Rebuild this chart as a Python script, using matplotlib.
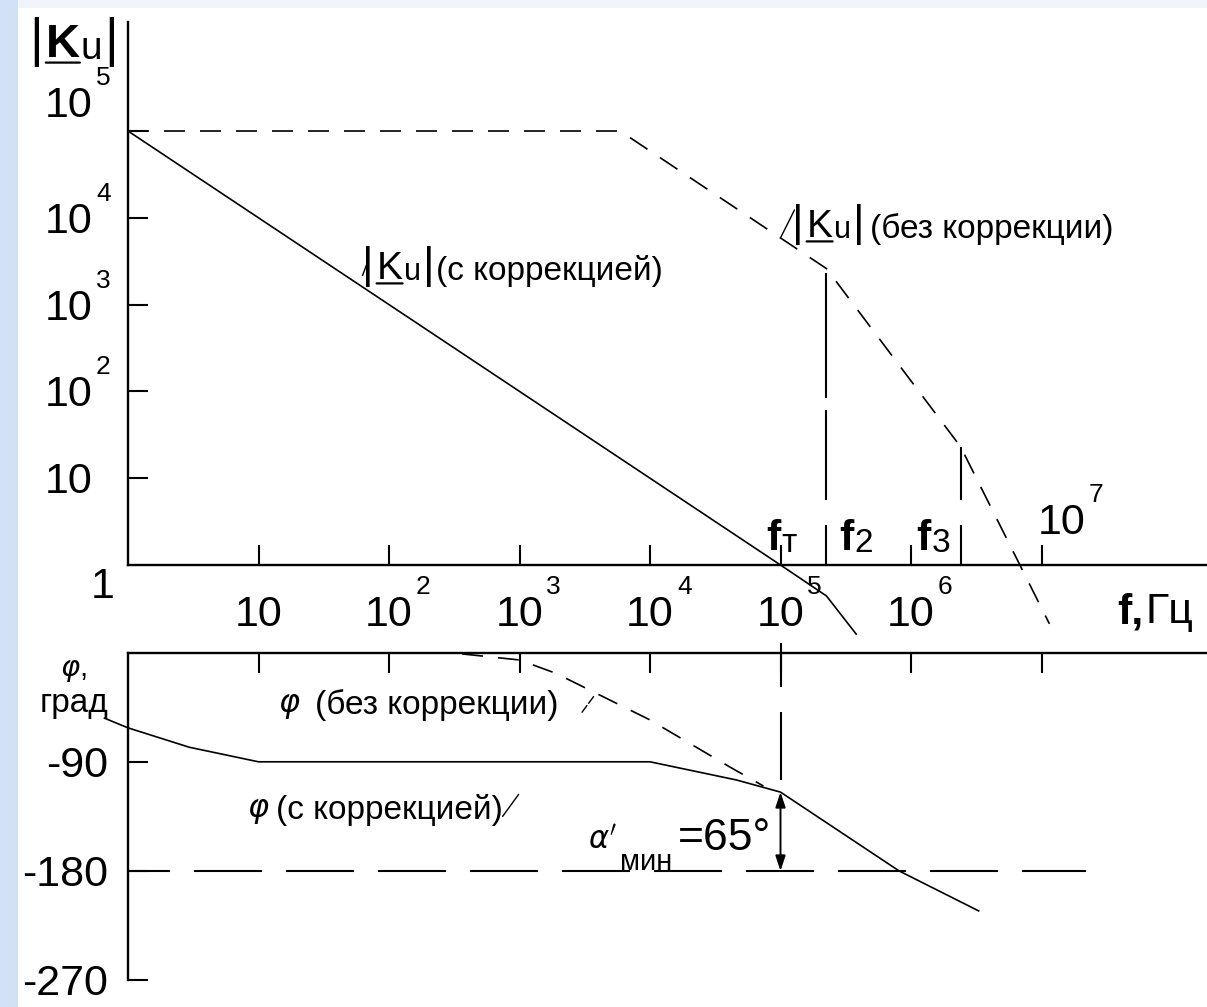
import matplotlib
matplotlib.use('Agg')
import matplotlib.pyplot as plt
from matplotlib.patches import Rectangle
from matplotlib.ticker import FixedLocator, NullLocator
import numpy as np

plt.rcParams['font.family'] = ['Liberation Sans', 'DejaVu Sans']
plt.rcParams['mathtext.fontset'] = 'dejavusans'
plt.rcParams['lines.scale_dashes'] = False

W, H, DPI = 1207, 1007, 100
PX = 72.0 / DPI          # one pixel in points

# characteristic frequencies, Hz
f_T = 1e5
f_2 = 2.25e5
f_3 = 2.4e6

# |Ku| without correction (asymptotes)
open_f = [1, 5.9e3, 2.25e5, 2.4e6, 1.15e7]
open_k = [1e5, 1e5, 2.6e3, 23, 0.21]

# |Ku| with correction
corr_f = [1, 1e5, 2.25e5, 3.8e5]
corr_k = [1e5, 1, 0.44, 0.16]

# phase, degrees
corr_phase_f = [0.66, 1, 2.95, 10, 1e4, 4.6e4, 1e5, 8.1e5, 3.3e6]
corr_phase = [-54, -62, -78, -90, -90, -105, -115, -180, -213]
open_phase_f = [363, 1e3, 1.9e3, 9.8e3, 4.2e4, 7.4e4]
open_phase = [-1, -6, -17, -55, -95, -110]

margin = 65              # phase margin at f_T
critical = -180
critical_f = [1, 2.2e7]

mag_ticks = [10, 1e2, 1e3, 1e4, 1e5]
freq_ticks = [10, 1e2, 1e3, 1e4, 1e5, 1e6, 1e7]
phase_ticks = [-90, -180, -270]

TICK = 31
SUP = 19
NOTE = 24
AXIS_LW = 1.7
CURVE_LW = 1.2
DASH = (0, (21 * PX, 15 * PX))


def on_curve(f, xs, ys, log_y=True):
    lx = np.log10(f)
    if log_y:
        return 10 ** np.interp(lx, np.log10(xs), np.log10(ys))
    return np.interp(lx, np.log10(xs), ys)


def frame(left, top, right, bottom):
    return [left / W, 1 - bottom / H, (right - left) / W, (bottom - top) / H]


fig = plt.figure(figsize=(W / DPI, H / DPI), dpi=DPI)

# pixel canvas for free text and the slide border
canvas = fig.add_axes([0, 0, 1, 1])
canvas.set_xlim(0, W)
canvas.set_ylim(H, 0)
canvas.axis('off')
canvas.add_patch(Rectangle((0, 0), 18, H, color='#d2e1f6', lw=0))
canvas.add_patch(Rectangle((18, 0), W, 8, color='#f1f5fb', lw=0))

mag = fig.add_axes(frame(128, 22, 1207, 565))
phase = fig.add_axes(frame(128, 652.7, 1207, 980))
for ax in (mag, phase):
    ax.set_xscale('log')
    ax.set_xlim(1, 10 ** ((1207 - 128) / 130.5))
    ax.patch.set_visible(False)
    for s in ax.spines.values():
        s.set_linewidth(AXIS_LW)
mag.set_yscale('log')
mag.set_ylim(1, 10 ** ((565 - 22) / 86.8))
phase.set_ylim(-270, 0)
mag.spines[['top', 'right']].set_visible(False)
phase.spines[['bottom', 'right']].set_visible(False)

mag.xaxis.set_major_locator(FixedLocator(freq_ticks))
mag.xaxis.set_minor_locator(FixedLocator([f_T]))
mag.yaxis.set_major_locator(FixedLocator(mag_ticks))
mag.yaxis.set_minor_locator(FixedLocator([mag_ticks[-1]]))
mag.tick_params(which='both', labelbottom=False, labelleft=False, width=1.5)
mag.tick_params(which='major', direction='in', length=20 * PX)
mag.tick_params(axis='x', which='minor', direction='out', length=18 * PX)
mag.tick_params(axis='y', which='minor', direction='out', length=45 * PX)

phase.xaxis.tick_top()
phase.xaxis.set_major_locator(FixedLocator(freq_ticks))
phase.xaxis.set_minor_locator(NullLocator())
phase.yaxis.set_major_locator(FixedLocator(phase_ticks))
phase.yaxis.set_minor_locator(NullLocator())
phase.tick_params(direction='in', length=20 * PX, width=1.5,
                  labeltop=False, labelleft=False, labelbottom=False)

# magnitude curves
mag.plot(open_f, open_k, color='k', lw=CURVE_LW, ls=DASH, clip_on=False)
mag.plot(corr_f, corr_k, color='k', lw=CURVE_LW, clip_on=False)
k2 = on_curve(f_2, open_f, open_k)
k3 = on_curve(f_3, open_f, open_k)
mag.plot([f_2, f_2], [1, k2 * 0.9], color='k', lw=1.5,
         ls=(0, (40 * PX, 25 * PX, 90 * PX, 12 * PX, 400 * PX, 1)))
mag.plot([f_3, f_3], [1, k3], color='k', lw=1.5,
         ls=(0, (40 * PX, 25 * PX, 400 * PX, 1)))

# phase curves
phase.plot(corr_phase_f, corr_phase, color='k', lw=CURVE_LW, clip_on=False)
phase.plot(open_phase_f, open_phase, color='k', lw=CURVE_LW, ls=DASH, clip_on=False)
phase.plot(critical_f, [critical] * 2, color='k', lw=1.5,
           ls=(26 * PX, (68 * PX, 24 * PX)), clip_on=False)
phi_T = on_curve(f_T, corr_phase_f, corr_phase, log_y=False)
phase.plot([f_T, f_T], [8, phi_T + 10], color='k', lw=1.5,
           ls=(0, (44 * PX, 25 * PX, 68 * PX, 100 * PX)), clip_on=False)
phase.annotate('', xy=(f_T, phi_T), xytext=(f_T, phi_T - margin),
               arrowprops=dict(arrowstyle='<|-|>,head_length=0.6,head_width=0.2',
                               color='k', lw=1.4, mutation_scale=15,
                               shrinkA=0, shrinkB=0))


def chain(prev, s, dx=0, dy=0, **kw):
    return canvas.annotate(s, (1, 0), xycoords=prev, xytext=(dx, dy),
                           textcoords='offset pixels', ha='left', va='bottom', **kw)


def underline(t, frac=0.1):
    canvas.annotate('', (0, frac), xycoords=t, xytext=(1, frac), textcoords=t,
                    arrowprops=dict(arrowstyle='-', lw=1.6, shrinkA=0, shrinkB=0))


def power_label(ax, xy, exp, dx, dy, ha='center'):
    base = ax.annotate('1' if exp == 0 else '10', xy, xytext=(dx, dy),
                       textcoords='offset pixels', ha=ha, va='center',
                       fontsize=TICK, annotation_clip=False)
    if exp > 1:
        ax.annotate(str(exp), (1, 1), xycoords=base, xytext=(3, -4),
                    textcoords='offset pixels', ha='left', va='bottom', fontsize=SUP)
    return base


def ku_label(x, y, bold=False, size=28):
    bar = canvas.text(x, y, '|', fontsize=size + 4, va='baseline')
    k = chain(bar, 'K', 3, 0, fontsize=size, fontweight='bold' if bold else 'normal')
    underline(k)
    u = chain(k, 'u', 1, 0, fontsize=size - 6)
    return chain(u, '|', 2, 0, fontsize=size + 4)


# tick labels
for v in mag_ticks:
    exp = int(round(np.log10(v)))
    power_label(mag, (1, v), exp, -35, 25 if v == mag_ticks[-1] else -4, ha='right')
power_label(mag, (1, 1), 0, -25, -22)
for f in freq_ticks[:-1]:
    power_label(mag, (f, 1), int(round(np.log10(f))), 0, -50)
power_label(mag, (freq_ticks[-1], 1), int(round(np.log10(freq_ticks[-1]))), -4, 42, ha='left')
for v in phase_ticks:
    phase.annotate(str(v), (1, v), xytext=(-20, -4), textcoords='offset pixels',
                   ha='right', va='center', fontsize=TICK, annotation_clip=False)

# characteristic frequency marks
for f, sub, dx in [(f_T, 'т', -14), (f_2, '2', 13), (f_3, '3', -44)]:
    t = mag.annotate('f', (f, 1), xytext=(dx, 15), textcoords='offset pixels',
                     fontsize=31, fontweight='bold', va='baseline', annotation_clip=False)
    chain(t, sub, 1, 0, fontsize=24)

# axis titles
ku_label(29, 56, bold=True, size=34)
fx = canvas.text(1117, 623, 'f,', fontsize=31, fontweight='bold', va='baseline')
chain(fx, 'Гц', 2, 0, fontsize=31)
canvas.text(60, 676, r'$\varphi$,', fontsize=21, va='baseline')
canvas.text(40, 712, 'град', fontsize=24, va='baseline')

# curve captions
t = ku_label(792, 236)
chain(t, '(без коррекции)', 6, 0, fontsize=NOTE)
mag.annotate('', xy=(f_T, on_curve(f_T, open_f, open_k)), xytext=(14, 28),
             textcoords='offset pixels',
             arrowprops=dict(arrowstyle='-', lw=1.0, shrinkA=0, shrinkB=0))

t = ku_label(362, 278)
chain(t, '(с коррекцией)', 2, 0, fontsize=NOTE)
f_cap = 59
mag.annotate('', xy=(f_cap, on_curve(f_cap, corr_f, corr_k)), xytext=(9, 24),
             textcoords='offset pixels',
             arrowprops=dict(arrowstyle='-', lw=1.0, shrinkA=0, shrinkB=7))

p = canvas.text(278, 712, r'$\varphi$', fontsize=23, va='baseline')
chain(p, '(без коррекции)', 14, 0, fontsize=NOTE)
f_cap = 3.86e3
phase.annotate('', xy=(f_cap, on_curve(f_cap, open_phase_f, open_phase, log_y=False)),
               xytext=(-14, -19), textcoords='offset pixels',
               arrowprops=dict(arrowstyle='-', lw=1.0, shrinkA=0, shrinkB=2,
                               linestyle=(0, (6, 2))))

p = canvas.text(247, 817, r'$\varphi$', fontsize=23, va='baseline')
t = chain(p, '(с коррекцией)', 6, 0, fontsize=NOTE)
canvas.annotate('', (1, 0.3), xycoords=t, xytext=(16, 22), textcoords='offset pixels',
                arrowprops=dict(arrowstyle='-', lw=1.0, shrinkA=0, shrinkB=0))

# phase margin
canvas.text(588, 848, r"$\alpha'$", fontsize=22, va='baseline')
canvas.text(620, 870, 'мин', fontsize=21, va='baseline')
canvas.text(678, 850, f'={margin}°', fontsize=32, va='baseline')

fig.savefig('out.png', dpi=DPI, facecolor='white')
